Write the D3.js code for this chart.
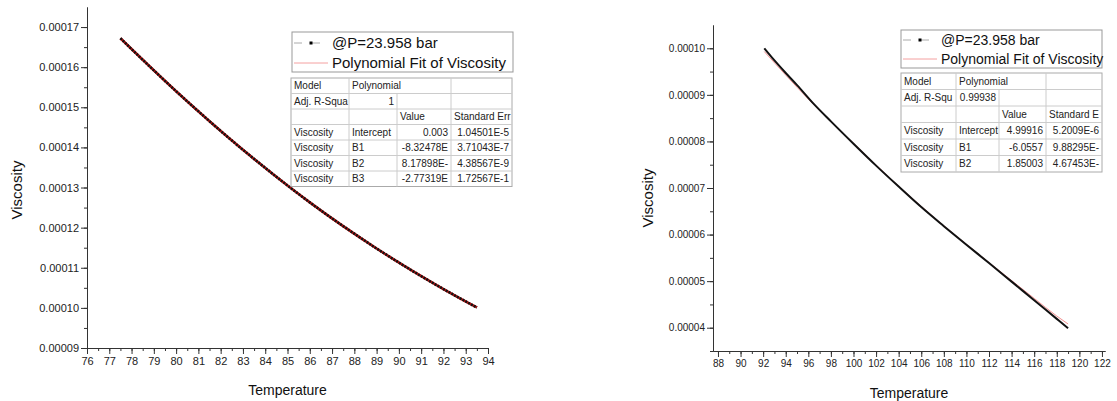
<!DOCTYPE html>
<html>
<head>
<meta charset="utf-8">
<script src="https://cdn.jsdelivr.net/npm/d3@7"></script>
<style>
  body { margin: 0; background: #fff; }
  svg { display: block; font-family: "Liberation Sans", Arial, sans-serif; }
</style>
</head>
<body>
<script>
// left plot: data
let leftTemp = [77.5, 78, 79, 80, 81, 82, 83, 84, 85, 86, 87, 88, 89, 90, 91, 92, 93, 93.5]
let leftVisc = [0.0001672, 0.0001645, 0.0001592, 0.0001540, 0.0001490, 0.0001441, 0.0001394, 0.0001349,
    0.0001305, 0.0001263, 0.0001223, 0.0001185, 0.0001148, 0.0001113, 0.0001079, 0.0001047, 0.0001016, 0.0001001]
let leftFitTemp = [77.5, 80, 83, 86, 89, 92, 93.5]
let leftFitVisc = [0.0001672, 0.0001540, 0.0001394, 0.0001263, 0.0001148, 0.0001047, 0.0001001]
let leftXTicks = [76, 77, 78, 79, 80, 81, 82, 83, 84, 85, 86, 87, 88, 89, 90, 91, 92, 93, 94]
let leftYTicks = [0.00009, 0.00010, 0.00011, 0.00012, 0.00013, 0.00014, 0.00015, 0.00016, 0.00017]
let leftTable = [
    ["Model", "Polynomial", "", ""],
    ["Adj. R-Squa", "1", "", ""],
    ["", "", "Value", "Standard Err"],
    ["Viscosity", "Intercept", "0.003", "1.04501E-5"],
    ["Viscosity", "B1", "-8.32478E", "3.71043E-7"],
    ["Viscosity", "B2", "8.17898E-", "4.38567E-9"],
    ["Viscosity", "B3", "-2.77319E", "1.72567E-1"]
]

// right plot
let rightTemp = [92.1, 93, 94, 95, 96.5, 98, 100, 102, 104, 106, 108, 110, 112, 114, 116, 118, 119]
let rightVisc = [0.0001000, 0.0000974, 0.0000947, 0.0000921, 0.0000880, 0.0000843, 0.0000795, 0.0000748,
    0.0000703, 0.0000659, 0.0000618, 0.0000578, 0.0000539, 0.0000499, 0.0000459, 0.0000419, 0.0000399]
let rightFitTemp = [92.1, 96, 100, 104, 108, 112, 116, 118, 119]
let rightFitVisc = [0.0000993, 0.0000891, 0.0000796, 0.0000704, 0.0000619, 0.0000540, 0.0000463, 0.0000425, 0.0000408]
let rightXTicks = [88, 90, 92, 94, 96, 98, 100, 102, 104, 106, 108, 110, 112, 114, 116, 118, 120, 122]
let rightYTicks = [0.00004, 0.00005, 0.00006, 0.00007, 0.00008, 0.00009, 0.00010]
let rightTable = [
    ["Model", "Polynomial", "", ""],
    ["Adj. R-Squ", "0.99938", "", ""],
    ["", "", "Value", "Standard E"],
    ["Viscosity", "Intercept", "4.99916", "5.2009E-6"],
    ["Viscosity", "B1", "-6.0557", "9.88295E-"],
    ["Viscosity", "B2", "1.85003", "4.67453E-"]
]

let legendLabels = ["@P=23.958 bar", "Polynomial Fit of Viscosity"]

let svg = d3.select("body")
    .append("svg")
    .attr("width", 1117)
    .attr("height", 401)

function drawPlot(opt) {
    let xScale = d3.scaleLinear().domain(opt.xDomain).range(opt.xRange)
    let yScale = d3.scaleLinear().domain(opt.yDomain).range(opt.yRange)
    let g = svg.append("g")

    // minor ticks first, then the labelled ones
    let xMinor = d3.range(Math.ceil(opt.xDomain[0]), opt.xDomain[1] + 1e-9, opt.xMinorStep)
    let yMinor = d3.range(opt.yMinorStart, opt.yDomain[1], 0.000005)

    g.append("g")
        .attr("transform", "translate(0," + opt.yRange[0] + ")")
        .call(d3.axisBottom(xScale).tickValues(xMinor).tickSize(3).tickSizeOuter(0).tickFormat(""))
    g.append("g")
        .attr("transform", "translate(0," + opt.yRange[0] + ")")
        .call(d3.axisBottom(xScale).tickValues(opt.xTicks).tickSize(6).tickSizeOuter(0).tickPadding(3))
        .call(a => a.selectAll("text").style("font-size", opt.tickFont + "px").attr("fill", "#222"))
    g.append("g")
        .attr("transform", "translate(" + opt.xRange[0] + ",0)")
        .call(d3.axisLeft(yScale).tickValues(yMinor).tickSize(3).tickSizeOuter(0).tickFormat(""))
    g.append("g")
        .attr("transform", "translate(" + opt.xRange[0] + ",0)")
        .call(d3.axisLeft(yScale).tickValues(opt.yTicks).tickSize(6).tickSizeOuter(0).tickPadding(2)
            .tickFormat(d3.format(".5f")))
        .call(a => a.selectAll("text").style("font-size", opt.tickFont + "px").attr("fill", "#222"))
    g.selectAll(".domain, .tick line").attr("stroke", "#333")

    // axis titles
    g.append("text")
        .attr("x", (opt.xRange[0] + opt.xRange[1]) / 2)
        .attr("y", opt.xTitleY)
        .attr("text-anchor", "middle")
        .style("font-size", "14px")
        .attr("fill", "#111")
        .text("Temperature")
    g.append("text")
        .attr("transform", "translate(" + opt.yTitleX + "," + opt.yTitleY + ") rotate(-90)")
        .attr("text-anchor", "middle")
        .style("font-size", "15px")
        .attr("fill", "#111")
        .text("Viscosity")

    let line = d3.line()
        .x(d => xScale(d[0]))
        .y(d => yScale(d[1]))
        .curve(d3.curveMonotoneX)

    // fit line under the data
    g.append("path")
        .datum(opt.fitTemp.map((t, i) => [t, opt.fitVisc[i]]))
        .attr("d", line)
        .attr("fill", "none")
        .attr("stroke", opt.fitColor)
        .attr("stroke-width", opt.fitWidth)

    g.append("path")
        .datum(opt.temp.map((t, i) => [t, opt.visc[i]]))
        .attr("d", line)
        .attr("fill", "none")
        .attr("stroke", "#111")
        .attr("stroke-width", opt.dataWidth)
        .attr("stroke-dasharray", opt.dataDash)

    // legend
    let lg = g.append("g")
    let L = opt.legend
    lg.append("rect")
        .attr("x", L.x).attr("y", L.y).attr("width", L.w).attr("height", L.h)
        .attr("fill", "#fff").attr("stroke", "#999")
    lg.append("line")
        .attr("x1", L.x + 2).attr("x2", L.x + 36).attr("y1", L.y + L.row1 - 5).attr("y2", L.y + L.row1 - 5)
        .attr("stroke", "#aaa").attr("stroke-dasharray", "8,5,0,5")
    lg.append("rect")
        .attr("x", L.x + 17.5).attr("y", L.y + L.row1 - 6.5).attr("width", 3).attr("height", 3)
        .attr("fill", "#000")
    lg.append("line")
        .attr("x1", L.x + 2).attr("x2", L.x + 36).attr("y1", L.y + L.row2 - 5).attr("y2", L.y + L.row2 - 5)
        .attr("stroke", "#f4a0a0")
    lg.selectAll("text.leg")
        .data(legendLabels)
        .enter()
        .append("text")
        .attr("class", "leg")
        .attr("x", L.x + 40)
        .attr("y", (d, i) => L.y + (i == 0 ? L.row1 : L.row2))
        .style("font-size", L.font + "px")
        .attr("fill", "#111")
        .text(d => d)

    // fit table
    let T = opt.table
    let tg = g.append("g")
    tg.append("rect")
        .attr("x", T.cols[0]).attr("y", T.y)
        .attr("width", T.cols[4] - T.cols[0]).attr("height", T.rowH * opt.rows.length)
        .attr("fill", "#fff").attr("stroke", "#aaa")
    opt.rows.forEach((row, r) => {
        let top = T.y + r * T.rowH
        if (r > 0) {
            tg.append("line")
                .attr("x1", T.cols[0]).attr("x2", T.cols[4]).attr("y1", top).attr("y2", top)
                .attr("stroke", "#ccc")
        }
        for (let c = 1; c < 4; c++) {
            if (r == 0 && c == 2) continue
            tg.append("line")
                .attr("x1", T.cols[c]).attr("x2", T.cols[c]).attr("y1", top).attr("y2", top + T.rowH)
                .attr("stroke", "#ccc")
        }
        row.forEach((txt, c) => {
            if (!txt) return
            let numeric = /^-?[0-9]/.test(txt)
            tg.append("text")
                .attr("x", numeric && r > 0 ? T.cols[c + 1] - 3 : T.cols[c] + 3)
                .attr("y", top + T.rowH / 2 + 3.5)
                .attr("text-anchor", numeric && r > 0 ? "end" : "start")
                .style("font-size", "10px")
                .attr("fill", "#222")
                .text(txt)
        })
    })
}

drawPlot({
    xDomain: [76, 94], xRange: [87, 488], xMinorStep: 0.5, xTicks: leftXTicks,
    yDomain: [0.00009, 0.000175], yRange: [348, 7], yMinorStart: 0.00009, yTicks: leftYTicks,
    tickFont: 11, xTitleY: 395, yTitleX: 22, yTitleY: 190,
    temp: leftTemp, visc: leftVisc, fitTemp: leftFitTemp, fitVisc: leftFitVisc,
    fitColor: "#b01010", fitWidth: 2.6, dataWidth: 2.6, dataDash: "2,1.2",
    legend: { x: 292, y: 32, w: 221, h: 40, row1: 16, row2: 36, font: 15 },
    table: { cols: [291, 349, 397, 451, 512], y: 78, rowH: 15.5 },
    rows: leftTable
})

drawPlot({
    xDomain: [87.56, 122.27], xRange: [713, 1105], xMinorStep: 1, xTicks: rightXTicks,
    yDomain: [0.000035, 0.000105], yRange: [351, 25], yMinorStart: 0.000035, yTicks: rightYTicks,
    tickFont: 10, xTitleY: 398, yTitleX: 653, yTitleY: 198,
    temp: rightTemp, visc: rightVisc, fitTemp: rightFitTemp, fitVisc: rightFitVisc,
    fitColor: "#f29090", fitWidth: 1, dataWidth: 2, dataDash: null,
    legend: { x: 901, y: 30, w: 201, h: 38, row1: 15, row2: 34, font: 14 },
    table: { cols: [901, 956, 999, 1046, 1102], y: 73, rowH: 16.5 },
    rows: rightTable
})
</script>
</body>
</html>
